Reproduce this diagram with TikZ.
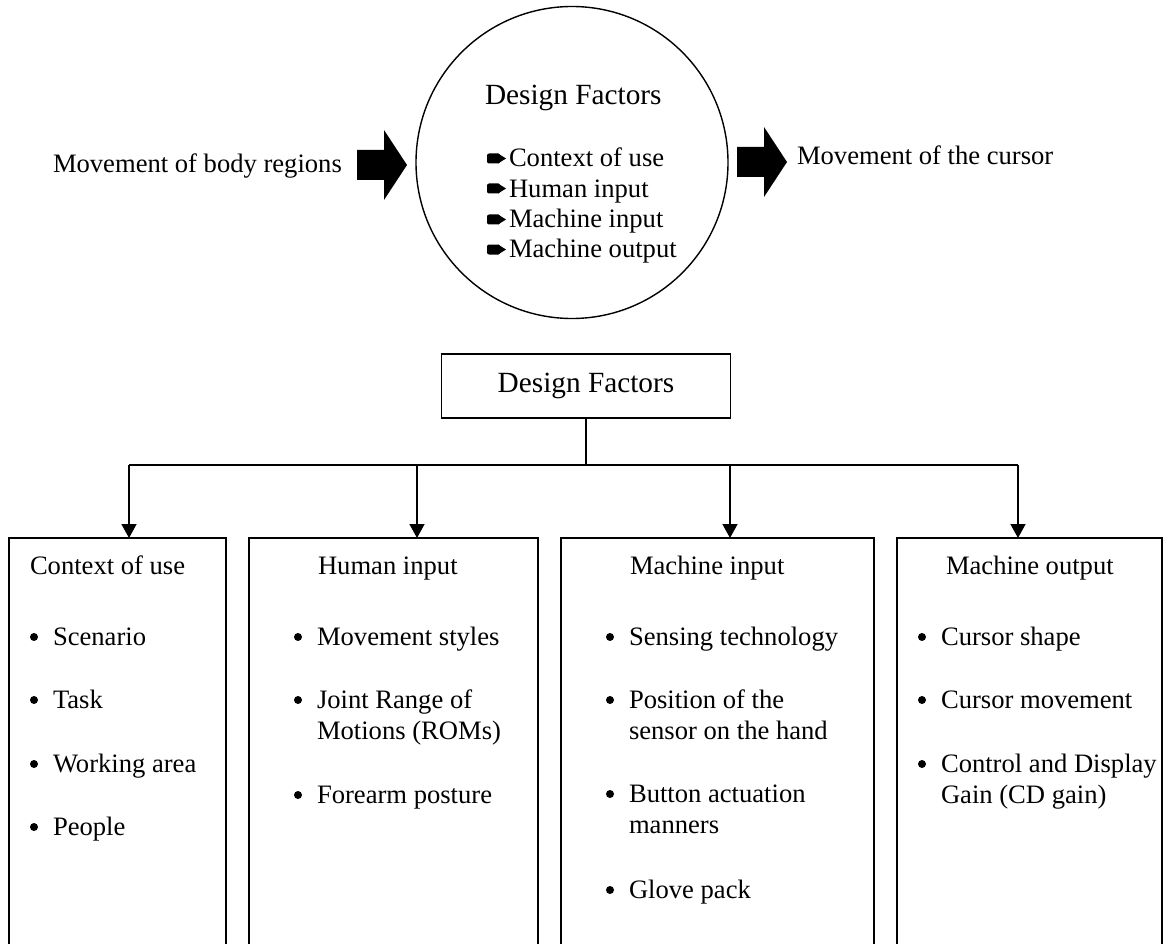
\documentclass[tikz,border=0pt]{standalone}
\usepackage{fontspec}
\setmainfont{Liberation Serif}
\usetikzlibrary{arrows.meta}
\newcommand\bodyfont{\fontsize{26.6}{30.4}\selectfont}
\newcommand\headfont{\fontsize{29.3}{33}\selectfont}

\begin{document}
\begin{tikzpicture}[x=1pt,y=-1pt,
  txt/.style={anchor=base west, inner sep=0pt, outer sep=0pt, font=\bodyfont},
  head/.style={txt, font=\headfont},
  panel/.style={draw, rectangle, line width=1.6pt, anchor=north west,
    inner sep=0pt, outer sep=0pt, minimum height=440pt},
  link/.style={line width=1.5pt},
  down/.style={link, -{Triangle[length=14pt,width=15pt]}},
  blockarrow/.style={fill=black}]

\clip (0,0) rectangle (1167,944);

% ---------- upper part: input -> design factors -> output ----------
\node[draw, circle, line width=1.4pt, minimum size=312pt, inner sep=0pt] (dfc) at (572,162.5) {};
\node[head] (dfctitle) at (485,105) {Design Factors};
\foreach \n/\y/\t in {c1/167/Context of use, c2/197/Human input,
                      c3/228/Machine input, c4/258/Machine output}{
  \node[txt] (\n) at (509,\y) {\t};
  \fill[rounded corners=2pt] (487,\y-13.5) rectangle (500,\y-3.5);
  \fill (498,\y-13.5) -- (506,\y-8.5) -- (498,\y-3.5) -- cycle;
}

\node[txt] (inlabel) at (53,173) {Movement of body regions};
\node[txt] (outlabel) at (797,165) {Movement of the cursor};

% block arrows on either side of the circle
\fill[blockarrow] (357,150) -- (384,150) -- (384,130) -- (407,165)
  -- (384,200) -- (384,180) -- (357,180) -- cycle;
\fill[blockarrow] (737,147) -- (764,147) -- (764,127) -- (787,162)
  -- (764,197) -- (764,177) -- (737,177) -- cycle;

% ---------- lower part: hierarchy of design factors ----------
\node[draw, rectangle, line width=1.6pt, minimum width=289pt, minimum height=64pt,
      inner sep=0pt, font=\headfont] (dfbox) at (586,386) {Design Factors};

\node[panel, minimum width=217pt] (box1) at (9,538) {};
\node[panel, minimum width=289pt] (box2) at (249,538) {};
\node[panel, minimum width=313pt] (box3) at (561,538) {};
\node[panel, minimum width=265pt] (box4) at (897,538) {};

\coordinate (hub) at (586,465);
\coordinate (b1) at (129,465);
\coordinate (b2) at (417,465);
\coordinate (b3) at (730,465);
\coordinate (b4) at (1018,465);

\draw[link] (dfbox.south) -- (hub);
\draw[link] (b1) -- (b4);
\draw[down] (b1) -- (b1 |- box1.north);
\draw[down] (b2) -- (b2 |- box2.north);
\draw[down] (b3) -- (b3 |- box3.north);
\draw[down] (b4) -- (b4 |- box4.north);

% panel titles
\node[txt] (t1) at (30,574) {Context of use};
\node[txt] (t2) at (318,574) {Human input};
\node[txt] (t3) at (630,574) {Machine input};
\node[txt] (t4) at (946,574) {Machine output};

% bulleted entries
\foreach \n/\x/\y/\t in {
    i11/53/645/Scenario, i12/53/708/Task, i13/53/772/Working area, i14/53/835/People,
    i21/317/645/Movement styles, i22/317/708/Joint Range of, i23/317/803/Forearm posture,
    i31/629/645/Sensing technology, i32/629/708/Position of the,
    i33/629/802/Button actuation, i34/629/898/Glove pack,
    i41/941/645/Cursor shape, i42/941/708/Cursor movement,
    i43/941/772/Control and Display}{
  \node[txt] (\n) at (\x,\y) {\t};
  \fill ([shift={(-19,-8)}]\n.base west) circle[radius=4];
}

% continuation lines
\foreach \n/\x/\y/\t in {
    k22/317/739/Motions (ROMs), k32/629/739/sensor on the hand,
    k33/629/833/manners, k43/941/803/Gain (CD gain)}{
  \node[txt] (\n) at (\x,\y) {\t};
}

\end{tikzpicture}
\end{document}
